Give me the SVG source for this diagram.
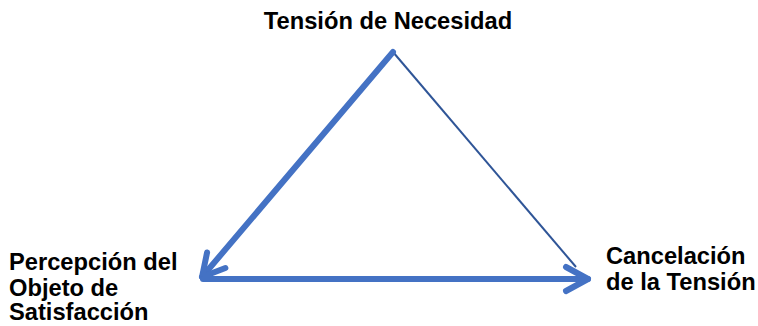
<svg xmlns="http://www.w3.org/2000/svg" width="758" height="326" viewBox="0 0 758 326">
<defs>
<style>
.lbl{font-family:"Liberation Sans",Arial,sans-serif;font-weight:bold;font-size:23.7px;fill:#000}
.thick{stroke:#4472C4;stroke-width:6;fill:none;stroke-linecap:round}
.thin{stroke:#2F5597;stroke-width:2;fill:none}
</style>
<marker id="head" markerUnits="userSpaceOnUse" orient="auto" refX="0" refY="0" markerWidth="40" markerHeight="40" overflow="visible">
<path d="M-22,-12 L0,0 L-22,12" fill="none" stroke="#4472C4" stroke-width="6" stroke-linecap="round" stroke-linejoin="round"/>
</marker>
</defs>
<rect width="758" height="326" fill="#fff"/>
<g id="connectors">
<line class="thin" x1="393" y1="52" x2="576" y2="267"/>
<line class="thick" x1="393" y1="52" x2="202" y2="277" marker-end="url(#head)"/>
<line class="thick" x1="203" y1="279" x2="588" y2="279" marker-end="url(#head)"/>
</g>
<g id="node-tension">
<text class="lbl" x="388" y="29" text-anchor="middle">Tensión de Necesidad</text>
</g>
<g id="node-percepcion">
<text class="lbl" x="9" y="270">Percepción del</text>
<text class="lbl" x="9" y="296">Objeto de</text>
<text class="lbl" x="9" y="320">Satisfacción</text>
</g>
<g id="node-cancelacion">
<text class="lbl" x="606" y="264">Cancelación</text>
<text class="lbl" x="606" y="290">de la Tensión</text>
</g>
</svg>
